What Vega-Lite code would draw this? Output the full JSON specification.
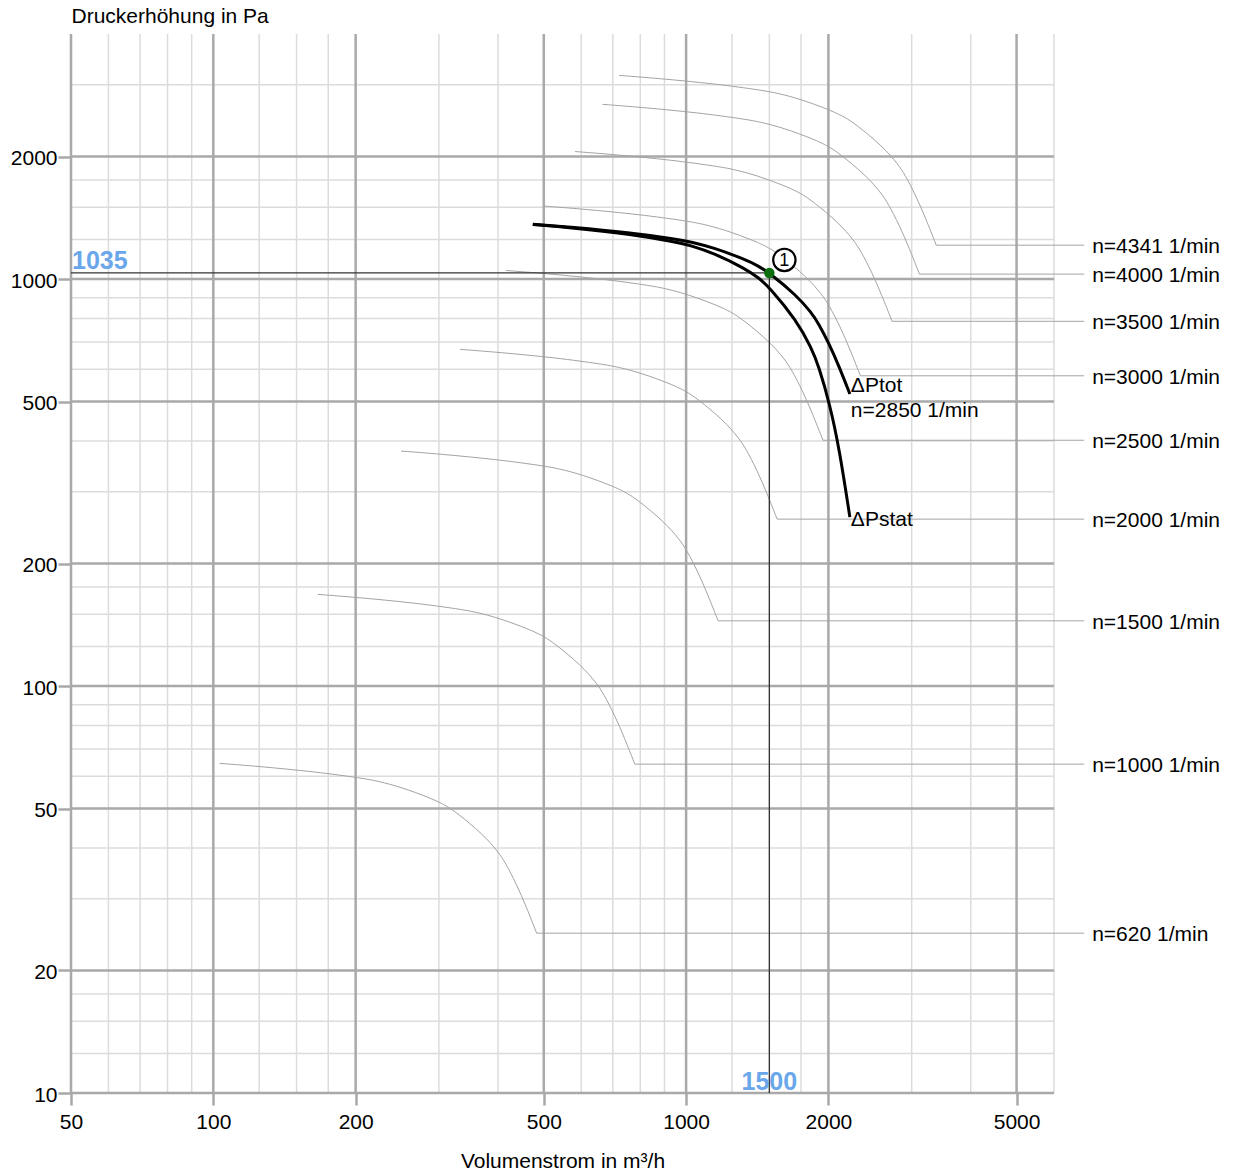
{
  "$schema": "https://vega.github.io/schema/vega-lite/v6.json",
  "width": 983,
  "height": 1059,
  "autosize": {"type": "none"},
  "padding": {"left": 71, "top": 34, "right": 188, "bottom": 80},
  "background": "white",
  "config": {"view": {"stroke": null}, "font": "Liberation Sans"},
  "datasets": {
    "gxminor": [{"Q":60},{"Q":70},{"Q":80},{"Q":90},{"Q":125},{"Q":150},{"Q":175},{"Q":300},{"Q":400},{"Q":600},{"Q":700},{"Q":800},{"Q":900},{"Q":1250},{"Q":1500},{"Q":1750},{"Q":3000},{"Q":4000},{"Q":6000}],
    "gxmajor": [{"Q":50},{"Q":100},{"Q":200},{"Q":500},{"Q":1000},{"Q":2000},{"Q":5000}],
    "gyminor": [{"P":12.5},{"P":15},{"P":17.5},{"P":30},{"P":40},{"P":60},{"P":70},{"P":80},{"P":90},{"P":125},{"P":150},{"P":175},{"P":300},{"P":400},{"P":600},{"P":700},{"P":800},{"P":900},{"P":1250},{"P":1500},{"P":1750},{"P":3000}],
    "gymajor": [{"P":10},{"P":20},{"P":50},{"P":100},{"P":200},{"P":500},{"P":1000},{"P":2000}],
    "gray": [
      {"n":620,"Q":103.12,"P":64.55},{"n":620,"Q":124.0,"P":63.51},{"n":620,"Q":165.33,"P":61.52},{"n":620,"Q":206.67,"P":59.35},{"n":620,"Q":223.42,"P":58.35},{"n":620,"Q":248.65,"P":56.51},{"n":620,"Q":289.33,"P":52.96},{"n":620,"Q":309.78,"P":50.92},{"n":620,"Q":326.32,"P":48.98},{"n":620,"Q":372.44,"P":43.16},{"n":620,"Q":400.72,"P":39.09},{"n":620,"Q":414.64,"P":36.82},{"n":620,"Q":437.48,"P":32.65},{"n":620,"Q":459.23,"P":28.68},{"n":620,"Q":482.95,"P":24.7},
      {"n":1000,"Q":166.32,"P":167.93},{"n":1000,"Q":200.0,"P":165.22},{"n":1000,"Q":266.67,"P":160.05},{"n":1000,"Q":333.33,"P":154.39},{"n":1000,"Q":360.35,"P":151.8},{"n":1000,"Q":401.05,"P":147.0},{"n":1000,"Q":466.67,"P":137.77},{"n":1000,"Q":499.65,"P":132.47},{"n":1000,"Q":526.32,"P":127.42},{"n":1000,"Q":600.7,"P":112.28},{"n":1000,"Q":646.32,"P":101.69},{"n":1000,"Q":668.77,"P":95.78},{"n":1000,"Q":705.61,"P":84.95},{"n":1000,"Q":740.7,"P":74.61},{"n":1000,"Q":778.95,"P":64.27},
      {"n":1500,"Q":249.47,"P":377.84},{"n":1500,"Q":300.0,"P":371.74},{"n":1500,"Q":400.0,"P":360.11},{"n":1500,"Q":500.0,"P":347.37},{"n":1500,"Q":540.53,"P":341.55},{"n":1500,"Q":601.58,"P":330.75},{"n":1500,"Q":700.0,"P":309.97},{"n":1500,"Q":749.47,"P":298.06},{"n":1500,"Q":789.47,"P":286.7},{"n":1500,"Q":901.05,"P":252.63},{"n":1500,"Q":969.47,"P":228.81},{"n":1500,"Q":1003.16,"P":215.51},{"n":1500,"Q":1058.42,"P":191.14},{"n":1500,"Q":1111.05,"P":167.87},{"n":1500,"Q":1168.42,"P":144.6},
      {"n":2000,"Q":332.63,"P":671.71},{"n":2000,"Q":400.0,"P":660.88},{"n":2000,"Q":533.33,"P":640.2},{"n":2000,"Q":666.67,"P":617.54},{"n":2000,"Q":720.7,"P":607.2},{"n":2000,"Q":802.11,"P":588.0},{"n":2000,"Q":933.33,"P":551.06},{"n":2000,"Q":999.3,"P":529.89},{"n":2000,"Q":1052.63,"P":509.7},{"n":2000,"Q":1201.4,"P":449.12},{"n":2000,"Q":1292.63,"P":406.77},{"n":2000,"Q":1337.54,"P":383.13},{"n":2000,"Q":1411.23,"P":339.8},{"n":2000,"Q":1481.4,"P":298.43},{"n":2000,"Q":1557.89,"P":257.06},
      {"n":2500,"Q":415.79,"P":1049.55},{"n":2500,"Q":500.0,"P":1032.63},{"n":2500,"Q":666.67,"P":1000.31},{"n":2500,"Q":833.33,"P":964.91},{"n":2500,"Q":900.88,"P":948.75},{"n":2500,"Q":1002.63,"P":918.74},{"n":2500,"Q":1166.67,"P":861.03},{"n":2500,"Q":1249.12,"P":827.95},{"n":2500,"Q":1315.79,"P":796.4},{"n":2500,"Q":1501.75,"P":701.75},{"n":2500,"Q":1615.79,"P":635.58},{"n":2500,"Q":1671.93,"P":598.65},{"n":2500,"Q":1764.04,"P":530.93},{"n":2500,"Q":1851.75,"P":466.3},{"n":2500,"Q":1947.37,"P":401.66},
      {"n":3000,"Q":498.95,"P":1511.36},{"n":3000,"Q":600.0,"P":1486.98},{"n":3000,"Q":800.0,"P":1440.44},{"n":3000,"Q":1000.0,"P":1389.47},{"n":3000,"Q":1081.05,"P":1366.2},{"n":3000,"Q":1203.16,"P":1322.99},{"n":3000,"Q":1400.0,"P":1239.89},{"n":3000,"Q":1498.95,"P":1192.24},{"n":3000,"Q":1578.95,"P":1146.81},{"n":3000,"Q":1802.11,"P":1010.53},{"n":3000,"Q":1938.95,"P":915.24},{"n":3000,"Q":2006.32,"P":862.05},{"n":3000,"Q":2116.84,"P":764.54},{"n":3000,"Q":2222.11,"P":671.47},{"n":3000,"Q":2336.84,"P":578.39},
      {"n":3500,"Q":582.11,"P":2057.12},{"n":3500,"Q":700.0,"P":2023.94},{"n":3500,"Q":933.33,"P":1960.6},{"n":3500,"Q":1166.67,"P":1891.23},{"n":3500,"Q":1261.23,"P":1859.56},{"n":3500,"Q":1403.68,"P":1800.74},{"n":3500,"Q":1633.33,"P":1687.63},{"n":3500,"Q":1748.77,"P":1622.78},{"n":3500,"Q":1842.11,"P":1560.94},{"n":3500,"Q":2102.46,"P":1375.44},{"n":3500,"Q":2262.11,"P":1245.74},{"n":3500,"Q":2340.7,"P":1173.35},{"n":3500,"Q":2469.65,"P":1040.63},{"n":3500,"Q":2592.46,"P":913.94},{"n":3500,"Q":2726.32,"P":787.26},
      {"n":4000,"Q":665.26,"P":2686.86},{"n":4000,"Q":800.0,"P":2643.52},{"n":4000,"Q":1066.67,"P":2560.79},{"n":4000,"Q":1333.33,"P":2470.18},{"n":4000,"Q":1441.4,"P":2428.81},{"n":4000,"Q":1604.21,"P":2351.99},{"n":4000,"Q":1866.67,"P":2204.25},{"n":4000,"Q":1998.6,"P":2119.54},{"n":4000,"Q":2105.26,"P":2038.78},{"n":4000,"Q":2402.81,"P":1796.49},{"n":4000,"Q":2585.26,"P":1627.09},{"n":4000,"Q":2675.09,"P":1532.53},{"n":4000,"Q":2822.46,"P":1359.19},{"n":4000,"Q":2962.81,"P":1193.72},{"n":4000,"Q":3115.79,"P":1028.25},
      {"n":4341,"Q":721.98,"P":3164.49},{"n":4341,"Q":868.2,"P":3113.45},{"n":4341,"Q":1157.6,"P":3016.01},{"n":4341,"Q":1447.0,"P":2909.29},{"n":4341,"Q":1564.28,"P":2860.57},{"n":4341,"Q":1740.97,"P":2770.09},{"n":4341,"Q":2025.8,"P":2596.09},{"n":4341,"Q":2168.98,"P":2496.33},{"n":4341,"Q":2284.74,"P":2401.21},{"n":4341,"Q":2607.65,"P":2115.85},{"n":4341,"Q":2805.66,"P":1916.33},{"n":4341,"Q":2903.14,"P":1804.97},{"n":4341,"Q":3063.07,"P":1600.81},{"n":4341,"Q":3215.39,"P":1405.93},{"n":4341,"Q":3381.41,"P":1211.05}
    ],
    "leaders": [
      {"n":620,"Q":482.95,"P":24.7},{"n":620,"Q":6950,"P":24.7},
      {"n":1000,"Q":778.95,"P":64.27},{"n":1000,"Q":6950,"P":64.27},
      {"n":1500,"Q":1168.42,"P":144.6},{"n":1500,"Q":6950,"P":144.6},
      {"n":2000,"Q":1557.89,"P":257.06},{"n":2000,"Q":6950,"P":257.06},
      {"n":2500,"Q":1947.37,"P":401.66},{"n":2500,"Q":6950,"P":401.66},
      {"n":3000,"Q":2336.84,"P":578.39},{"n":3000,"Q":6950,"P":578.39},
      {"n":3500,"Q":2726.32,"P":787.26},{"n":3500,"Q":6950,"P":787.26},
      {"n":4000,"Q":3115.79,"P":1028.25},{"n":4000,"Q":6950,"P":1028.25},
      {"n":4341,"Q":3381.41,"P":1211.05},{"n":4341,"Q":6950,"P":1211.05}
    ],
    "speedlabels": [
      {"Q":6950,"P":24.7,"label":"n=620 1/min"},
      {"Q":6950,"P":64.27,"label":"n=1000 1/min"},
      {"Q":6950,"P":144.6,"label":"n=1500 1/min"},
      {"Q":6950,"P":257.06,"label":"n=2000 1/min"},
      {"Q":6950,"P":401.66,"label":"n=2500 1/min"},
      {"Q":6950,"P":578.39,"label":"n=3000 1/min"},
      {"Q":6950,"P":787.26,"label":"n=3500 1/min"},
      {"Q":6950,"P":1028.25,"label":"n=4000 1/min"},
      {"Q":6950,"P":1211.05,"label":"n=4341 1/min"}
    ],
    "main": [
      {"curve":"tot","Q":474,"P":1364},{"curve":"tot","Q":570,"P":1342},{"curve":"tot","Q":760,"P":1300},{"curve":"tot","Q":950,"P":1254},{"curve":"tot","Q":1027,"P":1233},{"curve":"tot","Q":1143,"P":1194},{"curve":"tot","Q":1330,"P":1119},{"curve":"tot","Q":1424,"P":1076},{"curve":"tot","Q":1500,"P":1035},{"curve":"tot","Q":1712,"P":912},{"curve":"tot","Q":1842,"P":826},{"curve":"tot","Q":1906,"P":778},{"curve":"tot","Q":2011,"P":690},{"curve":"tot","Q":2111,"P":606},{"curve":"tot","Q":2220,"P":522},
      {"curve":"stat","Q":474,"P":1361.5},{"curve":"stat","Q":570,"P":1337.6},{"curve":"stat","Q":760,"P":1289.5},{"curve":"stat","Q":950,"P":1233.5},{"curve":"stat","Q":1027,"P":1207.1},{"curve":"stat","Q":1143,"P":1158.2},{"curve":"stat","Q":1330,"P":1062.7},{"curve":"stat","Q":1424,"P":1006.9},{"curve":"stat","Q":1500,"P":954.2},{"curve":"stat","Q":1712,"P":791.8},{"curve":"stat","Q":1842,"P":676.3},{"curve":"stat","Q":1906,"P":612.2},{"curve":"stat","Q":2011,"P":495.2},{"curve":"stat","Q":2111,"P":380.7},{"curve":"stat","Q":2220,"P":260}
    ],
    "oplines": [
      {"seg":"h","Q":50,"P":1035},{"seg":"h","Q":1500,"P":1035},
      {"seg":"v","Q":1500,"P":1035},{"seg":"v","Q":1500,"P":10}
    ],
    "op": [{"Q":1500,"P":1035}]
  },
  "layer": [
    {
      "data": {"name": "gxminor"},
      "mark": {"type": "rule", "color": "#dcdcdc", "strokeWidth": 1.5},
      "encoding": {
        "x": {"field": "Q", "type": "quantitative",
          "scale": {"type": "log", "domain": [50, 6000], "nice": false},
          "axis": {"values": [50, 100, 200, 500, 1000, 2000, 5000], "format": "d",
            "title": "Volumenstrom in m³/h", "grid": false, "domain": false,
            "ticks": true, "tickSize": 12, "tickColor": "#a9a9a9", "tickWidth": 2.5,
            "labelFontSize": 21, "labelColor": "#000000", "labelBaseline": "alphabetic",
            "labelPadding": 23, "labelFlush": false, "labelOverlap": false, "labelBound": false,
            "titleFontSize": 21, "titleFontWeight": "normal", "titleColor": "#000000",
            "titleBaseline": "alphabetic", "titleY": 74}
        }
      }
    },
    {
      "data": {"name": "gyminor"},
      "mark": {"type": "rule", "color": "#dcdcdc", "strokeWidth": 1.5},
      "encoding": {
        "y": {"field": "P", "type": "quantitative",
          "scale": {"type": "log", "domain": [10, 4000], "nice": false},
          "axis": {"values": [10, 20, 50, 100, 200, 500, 1000, 2000], "format": "d",
            "title": "Druckerhöhung in Pa", "grid": false, "domain": false,
            "ticks": true, "tickSize": 13, "tickColor": "#a9a9a9", "tickWidth": 2.5,
            "labelFontSize": 21, "labelColor": "#000000", "labelPadding": 1, "labelOffset": 2,
            "labelFlush": false, "labelOverlap": false, "labelBound": false,
            "titleFontSize": 21, "titleFontWeight": "normal", "titleColor": "#000000",
            "titleAngle": 0, "titleAlign": "left", "titleBaseline": "alphabetic",
            "titleX": 0, "titleY": -12}
        }
      }
    },
    {
      "data": {"name": "gxmajor"},
      "mark": {"type": "rule", "color": "#a9a9a9", "strokeWidth": 2.5},
      "encoding": {"x": {"field": "Q", "type": "quantitative"}}
    },
    {
      "data": {"name": "gymajor"},
      "mark": {"type": "rule", "color": "#a9a9a9", "strokeWidth": 2.5},
      "encoding": {"y": {"field": "P", "type": "quantitative"}}
    },
    {
      "data": {"name": "gray"},
      "mark": {"type": "line", "color": "#a3a3a3", "strokeWidth": 1, "interpolate": "basis"},
      "encoding": {
        "x": {"field": "Q", "type": "quantitative"},
        "y": {"field": "P", "type": "quantitative"},
        "detail": {"field": "n", "type": "nominal"}
      }
    },
    {
      "data": {"name": "leaders"},
      "mark": {"type": "line", "color": "#a3a3a3", "strokeWidth": 1},
      "encoding": {
        "x": {"field": "Q", "type": "quantitative"},
        "y": {"field": "P", "type": "quantitative"},
        "detail": {"field": "n", "type": "nominal"}
      }
    },
    {
      "data": {"name": "oplines"},
      "mark": {"type": "line", "color": "#333333", "strokeWidth": 1.3},
      "encoding": {
        "x": {"field": "Q", "type": "quantitative"},
        "y": {"field": "P", "type": "quantitative"},
        "detail": {"field": "seg", "type": "nominal"}
      }
    },
    {
      "data": {"name": "main"},
      "mark": {"type": "line", "color": "#000000", "strokeWidth": 3, "interpolate": "basis"},
      "encoding": {
        "x": {"field": "Q", "type": "quantitative"},
        "y": {"field": "P", "type": "quantitative"},
        "detail": {"field": "curve", "type": "nominal"}
      }
    },
    {
      "data": {"name": "speedlabels"},
      "mark": {"type": "text", "align": "left", "baseline": "middle", "dx": 8, "dy": 2, "fontSize": 21, "color": "#000000"},
      "encoding": {
        "x": {"field": "Q", "type": "quantitative"},
        "y": {"field": "P", "type": "quantitative"},
        "text": {"field": "label"}
      }
    },
    {
      "data": {"values": [{"Q": 2220, "P": 522, "label": "ΔPtot"}]},
      "mark": {"type": "text", "align": "left", "baseline": "middle", "dx": 1, "dy": -8, "fontSize": 21, "color": "#000000"},
      "encoding": {
        "x": {"field": "Q", "type": "quantitative"},
        "y": {"field": "P", "type": "quantitative"},
        "text": {"field": "label"}
      }
    },
    {
      "data": {"values": [{"Q": 2220, "P": 522, "label": "n=2850 1/min"}]},
      "mark": {"type": "text", "align": "left", "baseline": "middle", "dx": 1, "dy": 17, "fontSize": 21, "color": "#000000"},
      "encoding": {
        "x": {"field": "Q", "type": "quantitative"},
        "y": {"field": "P", "type": "quantitative"},
        "text": {"field": "label"}
      }
    },
    {
      "data": {"values": [{"Q": 2220, "P": 260, "label": "ΔPstat"}]},
      "mark": {"type": "text", "align": "left", "baseline": "middle", "dx": 1, "dy": 3, "fontSize": 21, "color": "#000000"},
      "encoding": {
        "x": {"field": "Q", "type": "quantitative"},
        "y": {"field": "P", "type": "quantitative"},
        "text": {"field": "label"}
      }
    },
    {
      "data": {"values": [{"Q": 50, "P": 1035, "label": "1035"}]},
      "mark": {"type": "text", "align": "left", "baseline": "alphabetic", "dx": 1, "dy": -4, "fontSize": 25, "fontWeight": "bold", "color": "#6aa6ea"},
      "encoding": {
        "x": {"field": "Q", "type": "quantitative"},
        "y": {"field": "P", "type": "quantitative"},
        "text": {"field": "label"}
      }
    },
    {
      "data": {"values": [{"Q": 1500, "P": 10, "label": "1500"}]},
      "mark": {"type": "text", "align": "center", "baseline": "alphabetic", "dy": -3, "fontSize": 25, "fontWeight": "bold", "color": "#6aa6ea"},
      "encoding": {
        "x": {"field": "Q", "type": "quantitative"},
        "y": {"field": "P", "type": "quantitative"},
        "text": {"field": "label"}
      }
    },
    {
      "data": {"name": "op"},
      "mark": {"type": "point", "shape": "circle", "filled": true, "color": "#0d6e0d", "size": 110, "opacity": 1},
      "encoding": {
        "x": {"field": "Q", "type": "quantitative"},
        "y": {"field": "P", "type": "quantitative"}
      }
    },
    {
      "data": {"name": "op"},
      "mark": {"type": "point", "shape": "circle", "filled": false, "fill": "#ffffff", "fillOpacity": 1, "stroke": "#000000", "strokeWidth": 2.2, "size": 500, "opacity": 1, "xOffset": 15, "yOffset": -13},
      "encoding": {
        "x": {"field": "Q", "type": "quantitative"},
        "y": {"field": "P", "type": "quantitative"}
      }
    },
    {
      "data": {"values": [{"Q": 1500, "P": 1035, "label": "1"}]},
      "mark": {"type": "text", "align": "center", "baseline": "middle", "dx": 15, "dy": -12, "fontSize": 18, "color": "#000000"},
      "encoding": {
        "x": {"field": "Q", "type": "quantitative"},
        "y": {"field": "P", "type": "quantitative"},
        "text": {"field": "label"}
      }
    }
  ]
}
